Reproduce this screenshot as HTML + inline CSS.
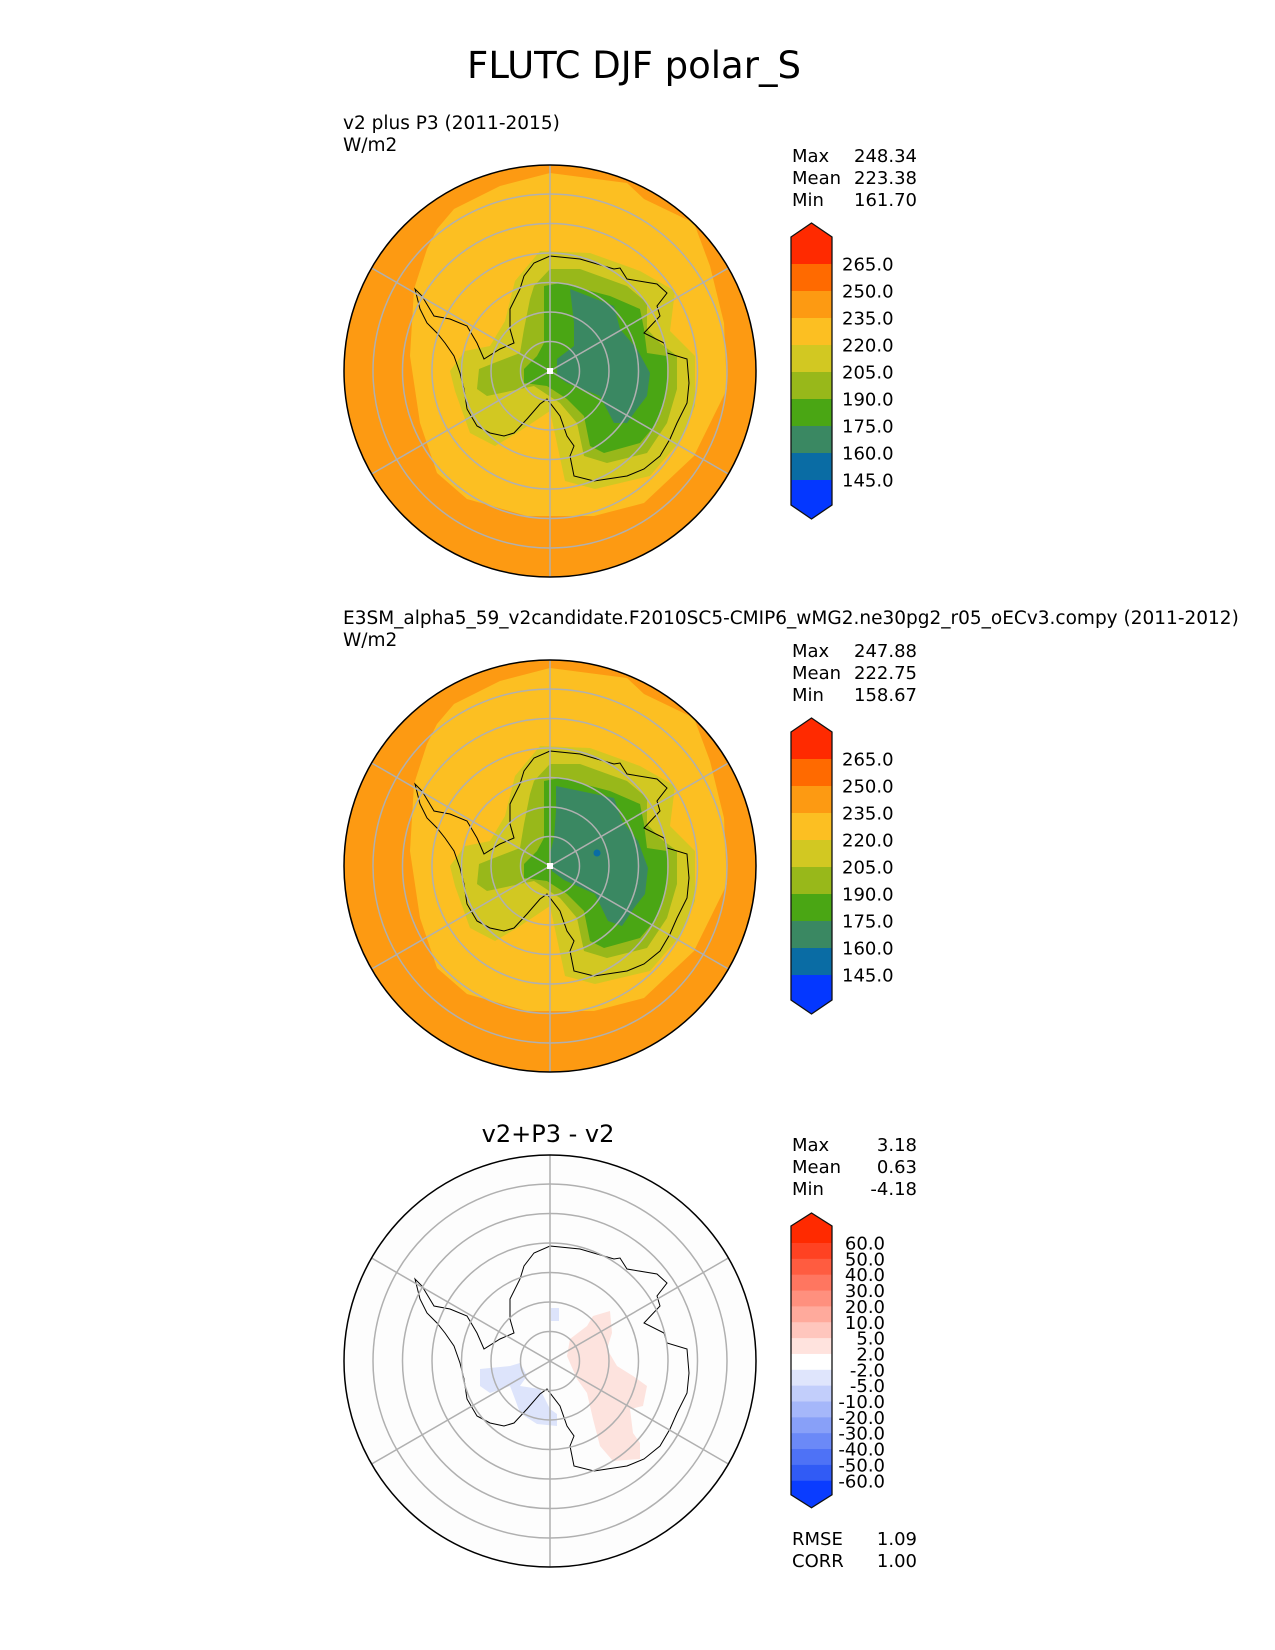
<!DOCTYPE html>
<html><head><meta charset="utf-8"><style>
html,body{margin:0;padding:0;background:#fff;}
svg{display:block;font-family:"DejaVu Sans","Liberation Sans",sans-serif;}
</style></head><body>
<svg id="fig" width="1275" height="1650" viewBox="0 0 1275 1650" xmlns="http://www.w3.org/2000/svg">
<text x="634" y="78" font-size="37" text-anchor="middle">FLUTC DJF polar_S</text>
<text x="343" y="129" font-size="18.5">v2 plus P3 (2011-2015)</text>
<text x="343" y="151" font-size="18.5">W/m2</text>
<text x="343" y="624" font-size="18.5">E3SM_alpha5_59_v2candidate.F2010SC5-CMIP6_wMG2.ne30pg2_r05_oECv3.compy (2011-2012)</text>
<text x="343" y="646" font-size="18.5">W/m2</text>
<text x="548" y="1142" font-size="24" text-anchor="middle">v2+P3 - v2</text>
</svg>
<script>
// ---- data ----
const fieldLevels = [265, 250, 235, 220, 205, 190, 175, 160, 145];
const fieldColors = ["#ff2a00","#ff6a00","#fd9a12","#fcbf22","#d2c822","#98b81a","#4aa614","#3a8862","#0a6ca4","#0437ff"];
const diffLevels = [60, 50, 40, 30, 20, 10, 5, 2, -2, -5, -10, -20, -30, -40, -50, -60];
const diffColors = ["#ff2a00","#ff4222","#ff5c40","#ff7660","#ff907e","#ffaa9c","#ffc6bd","#ffe3de","#ffffff","#dfe5fc","#c2cefb","#a5b7fa","#88a0f8","#6b89f7","#4e72f6","#315bf5","#0a3cff"];
const statNames = ["Max","Mean","Min"];
const testStats = ["248.34","223.38","161.70"];
const refStats = ["247.88","222.75","158.67"];
const diffStats = ["3.18","0.63","-4.18"];
const metricNames = ["RMSE","CORR"];
const metricValues = ["1.09","1.00"];

const NS = "http://www.w3.org/2000/svg";
const svg = document.getElementById("fig");
function mk(tag, attrs, parent){ const e=document.createElementNS(NS,tag); for(const k in attrs) e.setAttribute(k,attrs[k]); (parent||svg).appendChild(e); return e; }
function pts(arr, cx, cy){ return arr.map(p=>(cx+p[0])+","+(cy+p[1])).join(" "); }

const coast = [[0,-115],[30,-112],[64,-102],[70,-103],[77,-92],[107,-87],[117,-78],[107,-65],[110,-55],[94,-38],[114,-28],[117,-18],[137,-12],[139,12],[137,32],[127,52],[120,68],[110,85],[94,98],[77,105],[44,110],[24,105],[20,85],[24,75],[17,65],[10,45],[-3,28],[-10,33],[-23,48],[-36,62],[-46,65],[-60,62],[-73,55],[-83,38],[-86,18],[-90,2],[-96,-15],[-105,-28],[-113,-38],[-123,-48],[-130,-62],[-135,-82],[-128,-75],[-116,-55],[-100,-52],[-83,-45],[-73,-28],[-66,-12],[-50,-22],[-36,-28],[-40,-42],[-40,-62],[-30,-82],[-26,-95],[-16,-108]];
const yellowZone = [[-96,-162],[-50,-185],[0,-198],[77,-188],[94,-172],[144,-148],[160,-105],[174,-48],[177,18],[144,85],[94,132],[44,145],[-23,145],[-83,128],[-113,102],[-130,52],[-140,-15],[-136,-82],[-123,-122],[-113,-142]];
const rimZone = [[-10,-120],[40,-118],[90,-100],[125,-80],[120,-40],[145,-15],[145,35],[130,70],[100,105],[45,118],[15,110],[0,40],[-30,60],[-55,75],[-80,62],[-95,20],[-100,0],[-85,-20],[-60,-25],[-45,-50],[-35,-90]];
const lgZone = [[-16,-85],[0,-102],[30,-102],[77,-85],[97,-68],[97,-42],[110,-28],[127,-15],[127,18],[117,52],[97,82],[57,92],[34,85],[27,52],[10,32],[-16,15],[-63,25],[-73,18],[-71,-2],[-56,-8],[-30,-18],[-26,-42],[-20,-72]];
const gZone = [[-6,-85],[10,-88],[60,-75],[90,-62],[94,-42],[97,-18],[117,-15],[117,18],[107,52],[90,72],[54,82],[40,75],[34,45],[17,28],[-3,15],[-26,12],[-26,-2],[-13,-15],[-6,-28],[-6,-65]];
const dZone1 = [[20,-82],[64,-65],[70,-42],[87,-22],[100,2],[97,25],[87,38],[77,52],[64,52],[50,25],[17,12],[7,5],[7,-12],[24,-25],[24,-48]];
const dZone2 = [[6,-80],[64,-68],[72,-45],[88,-25],[98,2],[95,28],[84,42],[72,60],[58,55],[45,28],[14,14],[2,5],[0,-12],[4,-28],[6,-55]];
const pinkPatch = [[43,-45],[60,-50],[62,-28],[57,-12],[67,5],[83,15],[97,25],[93,45],[80,48],[83,72],[90,82],[90,98],[63,100],[50,85],[43,58],[37,32],[27,18],[17,-5],[20,-22],[37,-35]];
const bluePatch = [[-70,8],[-40,5],[-30,2],[-23,15],[-30,25],[-10,28],[0,48],[7,53],[7,65],[-13,63],[-30,52],[-35,38],[-40,25],[-60,32],[-70,25]];

const R = 206;
function drawMap(cx, cy, kind, name){
  const g = mk("g", {});
  
  
  const cid = "clip-"+name;
  const cp = mk("clipPath",{id:cid}, g); mk("circle",{cx:cx,cy:cy,r:R},cp);
  const inner = mk("g",{"clip-path":"url(#"+cid+")"}, g);
  if(kind==="diff"){
    mk("circle",{cx:cx,cy:cy,r:R,fill:"#fdfdfd"},inner);
    const p1 = mk("polygon",{points:pts(pinkPatch,cx,cy),fill:"#fde3de"},inner);
    
    
    const p2 = mk("polygon",{points:pts(bluePatch,cx,cy),fill:"#dde4fb"},inner);
    
    
    mk("rect",{x:cx+1,y:cy-53,width:8,height:13,fill:"#dde4fb"},inner);
  } else {
    mk("circle",{cx:cx,cy:cy,r:R,fill:fieldColors[2]},inner);
    mk("polygon",{points:pts(yellowZone,cx,cy),fill:fieldColors[3]},inner);
    mk("polygon",{points:pts(rimZone,cx,cy),fill:fieldColors[4]},inner);
    mk("polygon",{points:pts(lgZone,cx,cy),fill:fieldColors[5]},inner);
    mk("polygon",{points:pts(gZone,cx,cy),fill:fieldColors[6]},inner);
    mk("polygon",{points:pts(kind==="test"?dZone1:dZone2,cx,cy),fill:fieldColors[7]},inner);
    if(kind==="ref") mk("circle",{cx:cx+47,cy:cy-13,r:3.5,fill:fieldColors[8]},inner);
  }
  const c = mk("polygon",{points:pts(coast,cx,cy),fill:"none",stroke:"#000","stroke-width":1},inner);
  
  
  for(let i=1;i<=6;i++) mk("circle",{cx:cx,cy:cy,r:29.5*i,fill:"none",stroke:"#b0b0b0","stroke-width":1.5},inner);
  for(const a of [30,90,150]){
    const t=a*Math.PI/180, dx=Math.cos(t)*R, dy=Math.sin(t)*R;
    mk("line",{x1:cx-dx,y1:cy-dy,x2:cx+dx,y2:cy+dy,stroke:"#b0b0b0","stroke-width":1.5},inner);
  }
  if(kind!=="diff") mk("rect",{x:cx-3,y:cy-3,width:6,height:6,fill:"#fff"},inner);
  mk("circle",{cx:cx,cy:cy,r:R,fill:"none",stroke:"#000","stroke-width":1.5},g);
}

function drawStats(y0, vals, name){
  statNames.forEach((s,i)=>{
    const t1 = mk("text",{x:792,y:y0+i*22,"font-size":18},svg); t1.textContent=s;
    
    
    const t2 = mk("text",{x:917,y:y0+i*22,"font-size":18,"text-anchor":"end"},svg); t2.textContent=vals[i];
    
    
  });
}

function drawFieldBar(off, name){
  const x0=791, w=41, top=264+off, h=27;
  const g = mk("g",{});
  
  
  const n = fieldLevels.length;
  mk("polygon",{points:`${x0},${top} ${x0},${top-27} ${x0+w/2},${top-41} ${x0+w},${top-27} ${x0+w},${top}`,fill:fieldColors[0]},g);
  for(let i=0;i<n-1;i++) mk("rect",{x:x0,y:top+i*h,width:w,height:h+0.5,fill:fieldColors[i+1]},g);
  const bot = top+(n-1)*h;
  mk("polygon",{points:`${x0},${bot} ${x0},${bot+25} ${x0+w/2},${bot+39} ${x0+w},${bot+25} ${x0+w},${bot}`,fill:fieldColors[n]},g);
  mk("polygon",{points:`${x0},${top-27} ${x0+w/2},${top-41} ${x0+w},${top-27} ${x0+w},${bot+25} ${x0+w/2},${bot+39} ${x0},${bot+25}`,fill:"none",stroke:"#111","stroke-width":1.3},g);
  fieldLevels.forEach((v,i)=>{
    const t = mk("text",{x:842,y:top+i*h+6.5,"font-size":18},g); t.textContent=v.toFixed(1);
    
    
  });
}

function drawDiffBar(){
  const x0=791, w=41, top=1243, h=15.85;
  const g = mk("g",{});
  
  
  const n = diffLevels.length;
  mk("polygon",{points:`${x0},${top} ${x0},${top-17} ${x0+w/2},${top-30} ${x0+w},${top-17} ${x0+w},${top}`,fill:diffColors[0]},g);
  for(let i=0;i<n-1;i++) mk("rect",{x:x0,y:top+i*h,width:w,height:h+0.5,fill:diffColors[i+1]},g);
  const bot = top+(n-1)*h;
  mk("polygon",{points:`${x0},${bot} ${x0},${bot+14} ${x0+w/2},${bot+27} ${x0+w},${bot+14} ${x0+w},${bot}`,fill:diffColors[n]},g);
  mk("polygon",{points:`${x0},${top-17} ${x0+w/2},${top-30} ${x0+w},${top-17} ${x0+w},${bot+14} ${x0+w/2},${bot+27} ${x0},${bot+14}`,fill:"none",stroke:"#111","stroke-width":1.3},g);
  diffLevels.forEach((v,i)=>{
    const t = mk("text",{x:885,y:top+i*h+6.5,"font-size":18,"text-anchor":"end"},g); t.textContent=v.toFixed(1);
    
    
  });
}

drawMap(550,371,"test","test-map");
drawMap(550,866,"ref","reference-map");
drawMap(550,1361,"diff","difference-map");
drawStats(162, testStats, "test-stats");
drawStats(657, refStats, "ref-stats");
drawStats(1151, diffStats, "diff-stats");
drawFieldBar(0, "test-colorbar");
drawFieldBar(495, "reference-colorbar");
drawDiffBar();
metricNames.forEach((m,i)=>{
  const t1 = mk("text",{x:792,y:1545+i*22,"font-size":18}); t1.textContent=m;
  
  
  const t2 = mk("text",{x:917,y:1545+i*22,"font-size":18,"text-anchor":"end"}); t2.textContent=metricValues[i];
  
  
});
</script>
</body></html>
